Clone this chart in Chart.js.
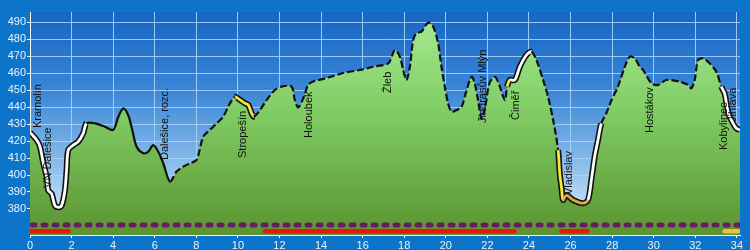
<!DOCTYPE html>
<html><head><meta charset="utf-8">
<script src="https://cdn.jsdelivr.net/npm/chart.js@4"></script>
<style>html,body{margin:0;padding:0;background:#0c75c9;overflow:hidden}#wrap{width:750px;height:250px}</style>
</head><body><div id="wrap"><canvas id="c" width="750" height="250"></canvas></div>
<script>
// ---- data ----
const distanceKm = [0,0.32,0.48,0.64,0.8,0.88,1.04,1.2,1.38,1.52,1.68,1.76,1.84,2.08,2.32,2.56,2.72,3.12,3.6,4.0,4.25,4.49,4.73,4.9,5.13,5.45,5.69,5.93,6.17,6.41,6.73,7.05,7.37,7.69,8.01,8.33,8.65,8.98,9.29,9.62,9.86,10.1,10.34,10.5,10.66,10.77,11.06,11.38,11.78,12.1,12.58,12.74,12.9,13.14,13.38,13.62,14.26,15.06,15.87,16.5,17.23,17.55,17.79,17.95,18.11,18.27,18.43,18.59,18.83,19.15,19.39,19.63,19.79,19.95,20.11,20.27,20.51,20.76,21.0,21.24,21.39,21.55,21.72,21.88,22.1,22.36,22.6,22.84,22.95,23.08,23.32,23.56,23.88,24.12,24.36,24.68,24.92,25.2,25.4,25.48,25.56,25.64,25.8,26.12,26.6,26.84,27.0,27.16,27.32,27.48,27.72,27.97,28.28,28.61,28.85,29.09,29.33,29.49,29.89,30.21,30.61,31.25,31.65,31.81,31.97,32.13,32.37,32.69,33.01,33.25,33.41,33.5,33.6,33.73,33.97,34.15];
const elevationM = [425,420.6,416.7,407,399,391,389,382,381,382,391,403,414.7,417.6,419.6,424.5,430.4,430.4,428.4,426.5,434.3,439.2,435,427.5,416.6,412.8,413.7,417.6,413.7,406.9,396.1,402,404.9,406.9,408.8,422.5,426.5,430.4,434.3,442.2,446,444.2,442.2,441.2,436.3,434.3,438.2,444.1,450,452,452,444,439.8,445,453,455,457,460,461.8,463.7,465.7,473.5,469.6,461.8,455.9,463.7,479.4,483.4,484.3,489.6,487.3,477.5,463.7,452,442.2,437.3,438.2,440.2,450,457.8,454,444.1,433,439,454,457.8,452,444,452,455.9,455.9,463.7,470.6,472.5,467.6,455.9,446,430,414.7,401,393,385.3,388.2,385.3,383.4,385.3,397,410.8,420.6,430.4,436.3,444.1,452,463.7,469.6,468.6,463.7,461.8,454,453,455.9,454.9,453,451,455.9,467.6,468.6,465.7,460.8,452,448,442,436,432.4,427.5,426.5];
const xTicks = [0,2,4,6,8,10,12,14,16,18,20,22,24,26,28,30,32,34];
const yTicks = [380,390,400,410,420,430,440,450,460,470,480,490];
const waypointNames = ["Kramolín","VN Dalešice","Dalešice, rozc.","Stropešín","Holoubek","Žleb","Jindrasův Mlýn","Čiměř","Vladislav","Hostákov","Kobylinec","Jihlava"];
const waypointKm = [0.36,0.87,6.49,10.24,13.41,17.21,21.78,23.37,25.91,29.81,33.37,33.8];
const waypointElev = [427.6,392.4,408.8,410,421.8,448.2,430.6,432.4,388.2,424.7,414.7,431.2];
const purpleRouteKm = [[0.1,34.15]];
const redRouteKm = [[0.05,1.85],[11.3,23.3],[25.55,26.82]];
const orangeRouteKm = [[33.42,34.05]];

// ---- style config ----
const X_MAX = 34.15, Y_MIN = 364.7, Y_MAX = 495.9;
const PURPLE_LANE = 370.6, RED_LANE = 366.9;
const zoneStart = [0, 2.72, 9.86, 22.95, 23.2, 25.4, 25.7, 26.84, 33.3];
const zoneEnd   = [2.72, 6.73, 10.77, 23.2, 24.12, 25.7, 26.84, 27.5, 34.2];
const zoneKind  = ['white','solid','yellow','yellow','white','yellow','tan','white','white'];
const kindColor = {white:'#ffffff', yellow:'#f3e63c', tan:'#deaa48', solid:'#111111', dash:'#111111'};

function zoneAt(km){
  for (let i=0;i<zoneStart.length;i++) if (km>=zoneStart[i] && km<zoneEnd[i]) return zoneKind[i];
  return 'dash';
}
function segKind(ctx){ return zoneAt((ctx.p0.parsed.x + ctx.p1.parsed.x)/2); }

const profile = distanceKm.map((k,i)=>({x:k, y:elevationM[i]}));
function lanes(list, y){
  const out=[];
  list.forEach(([a,b])=>{ out.push({x:a,y},{x:b,y},{x:b,y:null}); });
  return out;
}

const bgPlugin = {
  id:'bg',
  beforeDraw(chart){
    const {ctx, chartArea:a} = chart;
    ctx.save();
    ctx.fillStyle = '#0c75c9';
    ctx.fillRect(0,0,chart.width,chart.height);
    const g = ctx.createLinearGradient(0,a.top,0,a.bottom);
    g.addColorStop(0,'#1764c6');
    g.addColorStop(0.35,'#3a86d6');
    g.addColorStop(0.7,'#8fc0ec');
    g.addColorStop(1,'#e6f2fd');
    ctx.fillStyle = g;
    ctx.fillRect(a.left,a.top,a.right-a.left,a.bottom-a.top);
    ctx.restore();
  }
};
const labelPlugin = {
  id:'wp',
  afterDatasetsDraw(chart){
    const {ctx, scales:{x,y}} = chart;
    ctx.save();
    ctx.font = '11px "Liberation Sans", Arial, sans-serif';
    ctx.fillStyle = '#111';
    ctx.textAlign = 'left';
    ctx.textBaseline = 'middle';
    waypointNames.forEach((n,i)=>{
      ctx.save();
      ctx.translate(x.getPixelForValue(waypointKm[i]), y.getPixelForValue(waypointElev[i]));
      ctx.rotate(-Math.PI/2);
      ctx.fillText(n,0,0);
      ctx.restore();
    });
    ctx.restore();
  }
};

const greenFill = (c)=>{
  const a = c.chart.chartArea;
  if(!a) return '#7cc55c';
  const g = c.chart.ctx.createLinearGradient(0,a.top,0,a.bottom);
  g.addColorStop(0,'#a6ec94');
  g.addColorStop(0.45,'#80cc64');
  g.addColorStop(1,'#5a9430');
  return g;
};

new Chart(document.getElementById('c'), {
  type:'line',
  data:{ datasets:[
    { // top track line
      data: profile, order:0, fill:false, pointRadius:0, tension:0.3,
      borderColor:'#111', borderWidth:2.2,
      segment:{
        borderColor: c=>kindColor[segKind(c)],
        borderDash: c=>segKind(c)==='dash'?[7,3]:[],
        borderWidth: c=>{const k=segKind(c); return (k==='dash'||k==='solid')?2.2:2.8;}
      }
    },
    { // black outline under coloured track sections
      data: profile, order:1, fill:false, pointRadius:0, tension:0.3,
      borderColor:'rgba(0,0,0,0)', borderWidth:6,
      segment:{
        borderColor: c=>{const k=segKind(c); return (k==='dash'||k==='solid')?'rgba(0,0,0,0)':'#111';}
      }
    },
    { data: lanes(redRouteKm, RED_LANE), order:2, spanGaps:false, pointRadius:0, fill:false,
      borderColor:'#e8170f', borderWidth:4.5, borderCapStyle:'round' },
    { data: lanes(orangeRouteKm, RED_LANE), order:2, spanGaps:false, pointRadius:0, fill:false,
      borderColor:'#f2bd3c', borderWidth:4.5, borderCapStyle:'round' },
    { data: lanes(purpleRouteKm, PURPLE_LANE), order:3, spanGaps:false, pointRadius:0, fill:false,
      borderColor:'#6c1a66', borderWidth:5, borderCapStyle:'round', borderDash:[3,8] },
    { // terrain fill
      data: profile, order:4, pointRadius:0, tension:0.3, fill:'start',
      backgroundColor: greenFill, borderWidth:0, borderColor:'rgba(0,0,0,0)'
    }
  ]},
  options:{
    responsive:false, animation:false, devicePixelRatio:1,
    layout:{padding:{top:12,right:10,left:0,bottom:0}},
    plugins:{legend:{display:false}, tooltip:{enabled:false}},
    scales:{
      x:{ type:'linear', min:0, max:X_MAX,
        afterBuildTicks: s=>{ s.ticks = xTicks.map(v=>({value:v})); },
        afterFit: s=>{ s.height = 15; },
        grid:{ color:'rgba(165,212,250,0.9)', lineWidth:1, tickLength:3, tickColor:'#ffffff' },
        border:{ color:'#ffffff', width:1 },
        ticks:{ color:'#e6f3ff', font:{size:11, family:'"Liberation Sans", Arial, sans-serif'}, padding:1, autoSkip:false, maxRotation:0 }
      },
      y:{ type:'linear', min:Y_MIN, max:Y_MAX,
        afterBuildTicks: s=>{ s.ticks = yTicks.map(v=>({value:v})); },
        afterFit: s=>{ s.width = 30; },
        grid:{ color:'rgba(165,212,250,0.9)', lineWidth:1, tickLength:3, tickColor:'#ffffff' },
        border:{ color:'#ffffff', width:1 },
        ticks:{ color:'#e6f3ff', font:{size:11, family:'"Liberation Sans", Arial, sans-serif'}, padding:1 }
      }
    }
  },
  plugins:[bgPlugin, labelPlugin]
});
</script>
</body></html>
